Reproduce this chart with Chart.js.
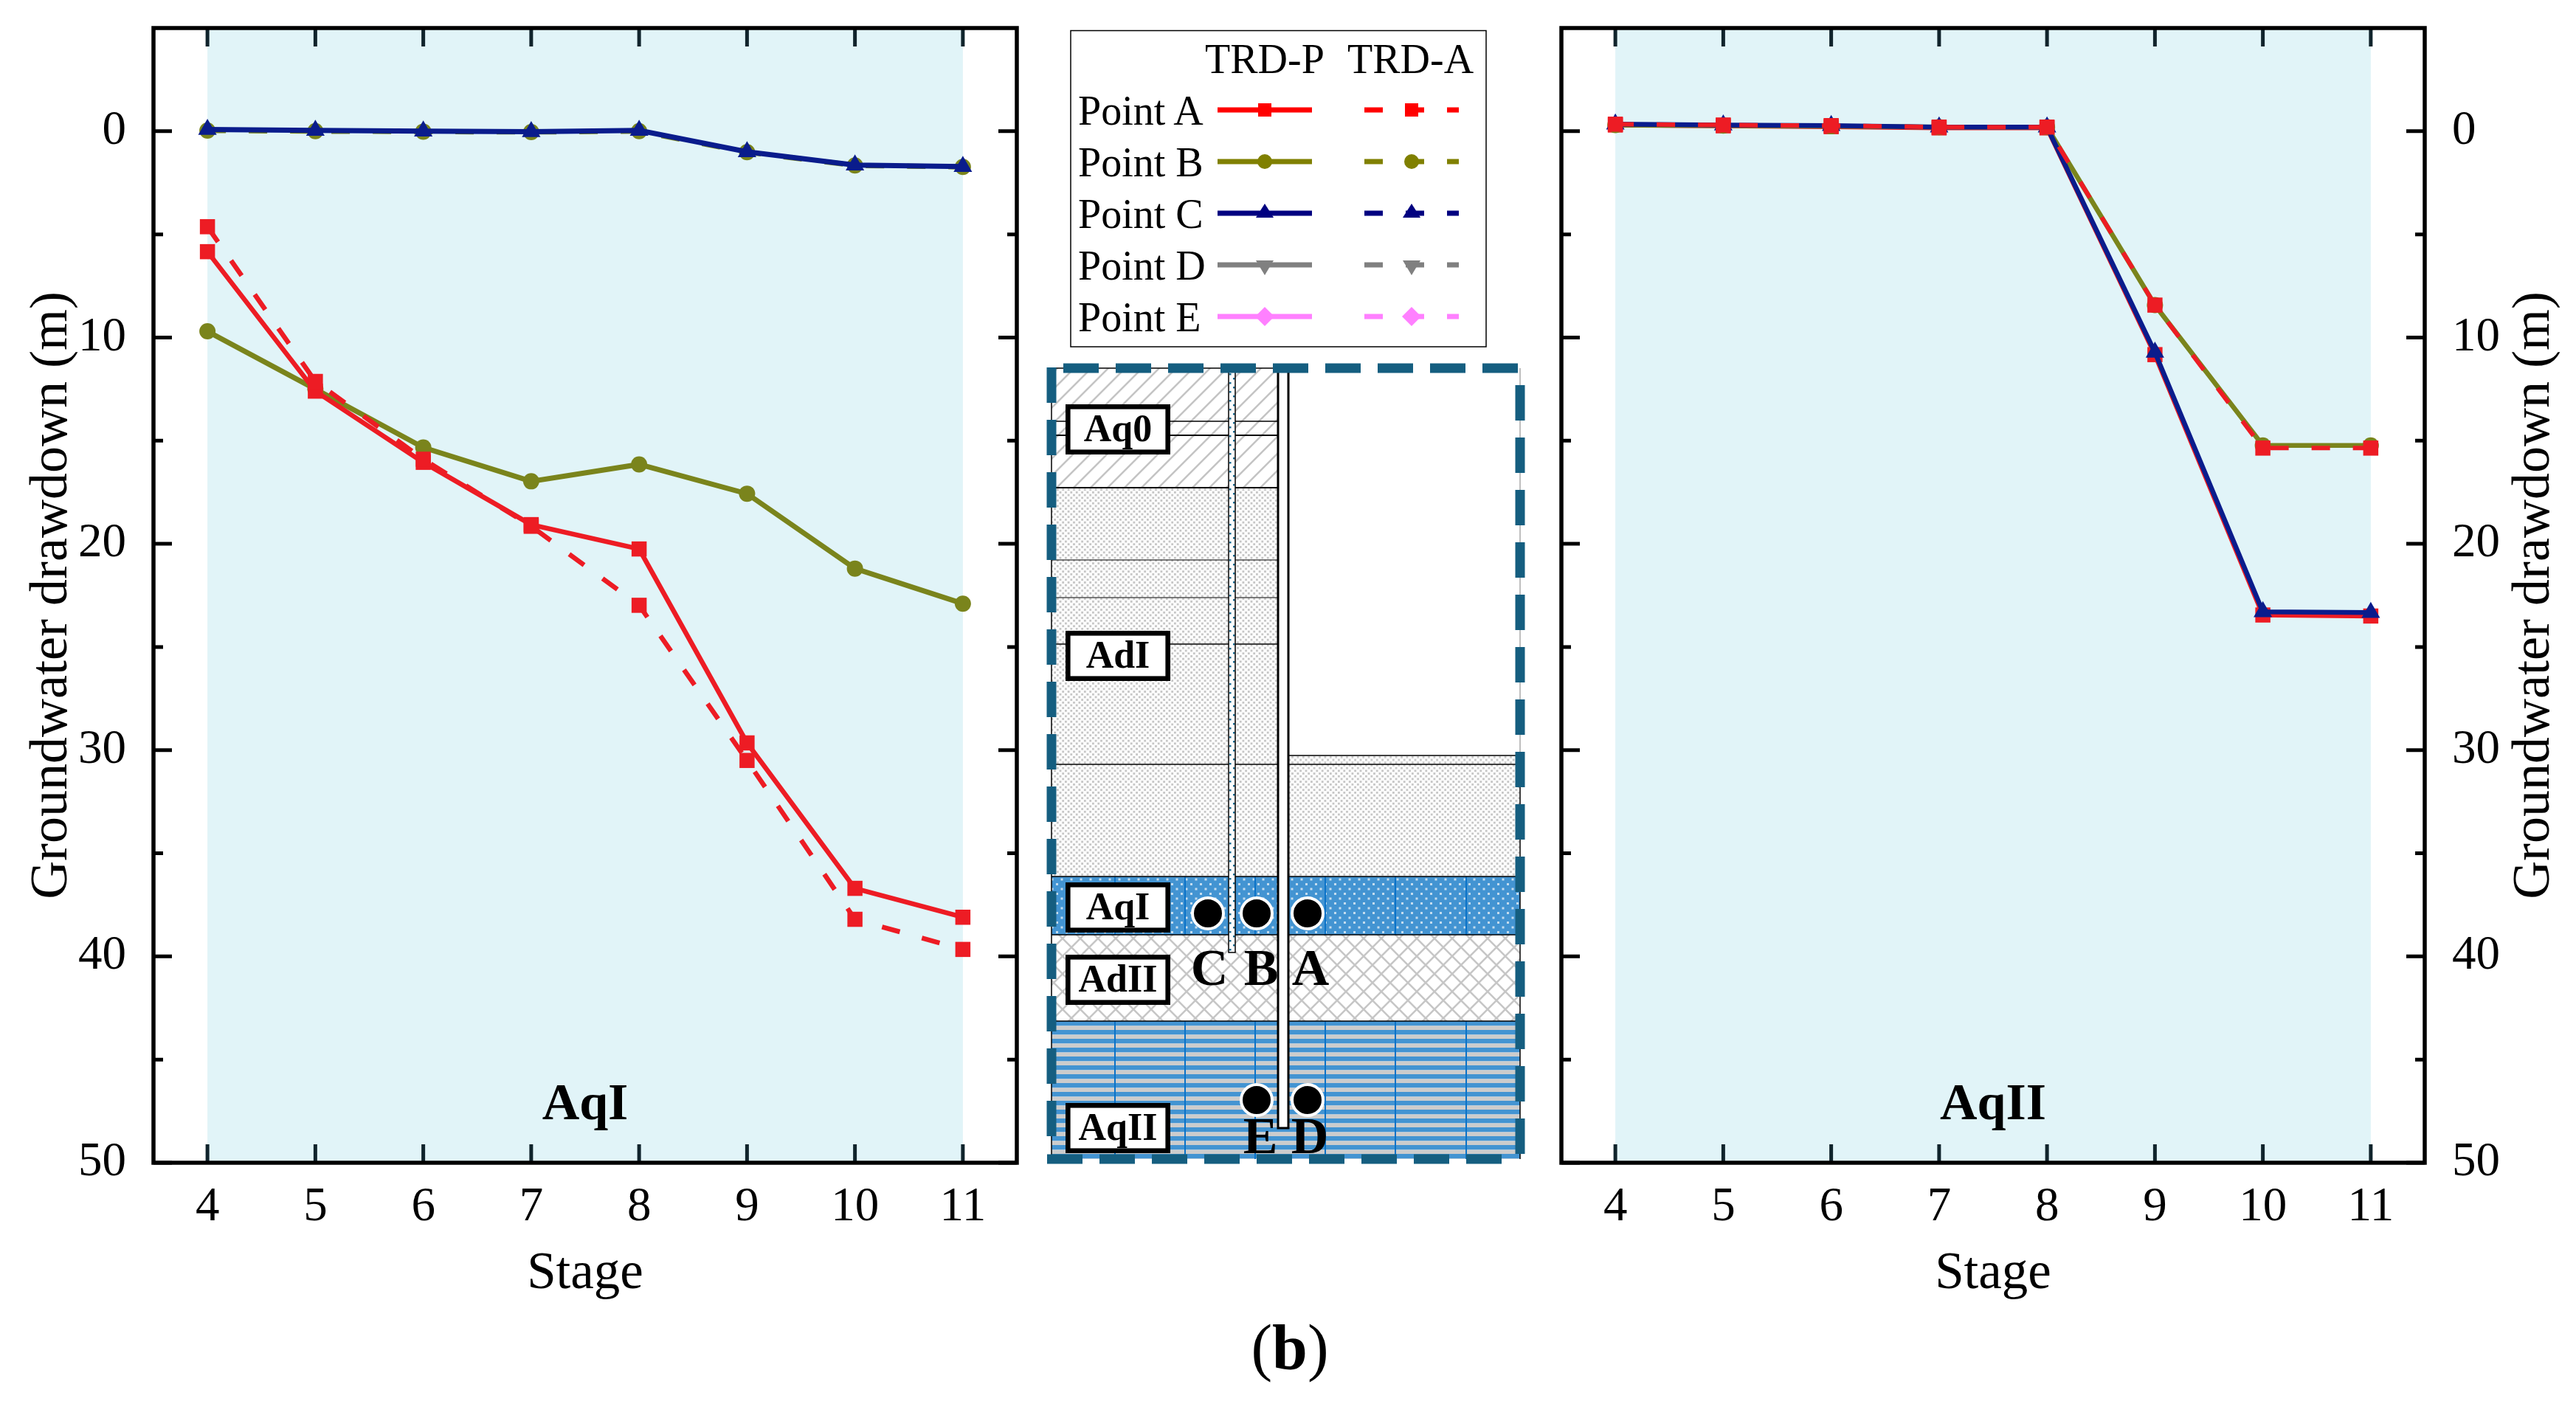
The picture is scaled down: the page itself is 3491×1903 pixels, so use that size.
<!DOCTYPE html>
<html>
<head>
<meta charset="utf-8">
<title>Groundwater drawdown</title>
<script src="https://cdn.jsdelivr.net/npm/chart.js@4/dist/chart.umd.js"></script>
<style>
  html, body { margin: 0; padding: 0; background: #fff; overflow: hidden; }
  #page { position: relative; width: 3491px; height: 1903px; }
  canvas, svg { position: absolute; top: 0; }
  svg { left: 0; pointer-events: none; }
  svg text { font-family: "Liberation Serif", serif; fill: #000; }
</style>
</head>
<body>
<div id="page">
  <canvas id="chartAqI" width="1420" height="1903" style="left:0"></canvas>
  <canvas id="chartAqII" width="1391" height="1903" style="left:2100px"></canvas>
  <svg id="overlay" width="3491" height="1903" xmlns="http://www.w3.org/2000/svg"></svg>
</div>
<script>
const stages = [4, 5, 6, 7, 8, 9, 10, 11]
const yTicks = [0, 10, 20, 30, 40, 50]
const yMinorTicks = [5, 15, 25, 35, 45]

// AqI panel
const aqIPointAP = [5.84, 12.6, 16.05, 19.07, 20.25, 29.65, 36.7, 38.1]
const aqIPointAA = [4.63, 12.13, 15.9, 19.15, 22.98, 30.5, 38.2, 39.66]
const aqIPointBP = [9.7, 12.5, 15.33, 16.97, 16.15, 17.57, 21.2, 22.9]
const aqIPointBA = [-0.03, 0, 0.02, 0.04, 0, 1.02, 1.66, 1.73]
const aqIPointCP = [-0.08, -0.04, 0, 0.02, -0.04, 1, 1.64, 1.71]

// AqII panel
const aqIIPointAP = [-0.3, -0.26, -0.22, -0.16, -0.16, 10.83, 23.45, 23.5]
const aqIIPointAA = [-0.34, -0.3, -0.27, -0.2, -0.2, 8.43, 15.36, 15.36]
const aqIIPointBP = [-0.3, -0.27, -0.24, -0.2, -0.2, 8.43, 15.23, 15.23]
const aqIIPointCP = [-0.34, -0.3, -0.27, -0.2, -0.2, 10.72, 23.3, 23.33]

const RED = '#ed1c24'
const OLIVE = '#7a841c'
const NAVY = '#0a1c8c'
const FONT = '"Liberation Serif", serif'
const DASH = [25, 31]

const xy = (values) => stages.map((s, i) => ({ x: s, y: values[i] }))

function series(label, values, color, style, radius, width, dash) {
  return {
    label,
    data: xy(values),
    borderColor: color,
    backgroundColor: color,
    borderWidth: width,
    borderDash: dash || [],
    pointStyle: style,
    pointRadius: radius,
    pointBackgroundColor: color,
    pointBorderWidth: 0,
    tension: 0,
    clip: false,
  }
}

// band behind the lines, frame and inward ticks on top of them
const framePlugin = {
  id: 'frame',
  beforeDatasetsDraw(chart) {
    const { ctx, chartArea: a, scales: { x } } = chart
    ctx.save()
    ctx.fillStyle = '#e1f4f8'
    ctx.fillRect(x.getPixelForValue(4), a.top, x.getPixelForValue(11) - x.getPixelForValue(4), a.bottom - a.top)
    ctx.restore()
  },
  afterDatasetsDraw(chart) {
    const { ctx, chartArea: a, scales: { x, y } } = chart
    ctx.save()
    ctx.lineWidth = 5
    ctx.strokeStyle = '#10242c'
    stages.forEach((s) => {
      const px = x.getPixelForValue(s)
      ctx.beginPath()
      ctx.moveTo(px, a.top)
      ctx.lineTo(px, a.top + 25)
      ctx.moveTo(px, a.bottom)
      ctx.lineTo(px, a.bottom - 25)
      ctx.stroke()
    })
    ctx.strokeStyle = '#000'
    const yTick = (v, len) => {
      const py = y.getPixelForValue(v)
      ctx.beginPath()
      ctx.moveTo(a.left, py)
      ctx.lineTo(a.left + len, py)
      ctx.moveTo(a.right, py)
      ctx.lineTo(a.right - len, py)
      ctx.stroke()
    }
    yTicks.forEach((v) => yTick(v, 25))
    yMinorTicks.forEach((v) => yTick(v, 13))
    ctx.lineWidth = 5.5
    ctx.strokeRect(a.left, a.top, a.right - a.left, a.bottom - a.top)
    ctx.restore()
  },
}

function panelLabel(text) {
  return {
    id: 'panelLabel',
    afterDatasetsDraw(chart) {
      const { ctx, chartArea: a, scales: { y } } = chart
      ctx.save()
      ctx.font = `bold 70px ${FONT}`
      ctx.fillStyle = '#000'
      ctx.textAlign = 'center'
      ctx.textBaseline = 'alphabetic'
      ctx.fillText(text, (a.left + a.right) / 2, y.getPixelForValue(47.9))
      ctx.restore()
    },
  }
}

// Chart.js turns a right hand title the other way, so this one is drawn by hand
const rightTitle = {
  id: 'rightTitle',
  afterDraw(chart) {
    const { ctx, chartArea: a, scales: { y } } = chart
    ctx.save()
    ctx.translate(y.right - 56, (a.top + a.bottom) / 2)
    ctx.rotate(-Math.PI / 2)
    ctx.font = `72px ${FONT}`
    ctx.fillStyle = '#000'
    ctx.textAlign = 'center'
    ctx.textBaseline = 'middle'
    ctx.fillText('Groundwater drawdown (m)', 0, 0)
    ctx.restore()
  },
}

function makeChart(id, datasets, opts) {
  return new Chart(document.getElementById(id), {
    type: 'line',
    data: { datasets },
    plugins: opts.plugins,
    options: {
      responsive: false,
      animation: false,
      devicePixelRatio: 1,
      layout: { padding: opts.padding },
      plugins: { legend: { display: false }, tooltip: { enabled: false } },
      scales: {
        x: {
          type: 'linear',
          min: 3.5,
          max: 11.5,
          grid: { display: false },
          border: { display: false },
          afterBuildTicks: (s) => { s.ticks = stages.map((v) => ({ value: v })) },
          afterFit: (s) => {
            s.height = 327
            s.paddingLeft = 0
            s.paddingRight = 0
          },
          ticks: {
            font: { family: FONT, size: 65 },
            color: '#000',
            padding: 14,
            autoSkip: false,
            maxRotation: 0,
            minRotation: 0,
          },
          title: {
            display: true,
            text: 'Stage',
            font: { family: FONT, size: 71 },
            color: '#000',
            padding: { top: 0, bottom: 133 },
          },
        },
        y: {
          type: 'linear',
          position: opts.yPosition,
          reverse: true,
          min: -5,
          max: 50,
          grid: { display: false },
          border: { display: false },
          afterBuildTicks: (s) => { s.ticks = yTicks.map((v) => ({ value: v })) },
          afterFit: (s) => {
            s.width = opts.yWidth
            s.paddingTop = 0
            s.paddingBottom = 0
          },
          ticks: {
            font: { family: FONT, size: 65 },
            color: '#000',
            padding: 29,
            autoSkip: false,
            maxRotation: 0,
            minRotation: 0,
          },
          title: {
            display: opts.yPosition === 'left',
            text: 'Groundwater drawdown (m)',
            font: { family: FONT, size: 72 },
            color: '#000',
            padding: { top: 28, bottom: 0 },
          },
        },
      },
    },
  })
}

// first dataset ends up on top
makeChart('chartAqI', [
  series('Point C TRD-P', aqIPointCP, NAVY, 'triangle', 14.5, 7),
  series('Point A TRD-A', aqIPointAA, RED, 'rect', 14.5, 6.5, DASH),
  series('Point A TRD-P', aqIPointAP, RED, 'rect', 14.5, 6.5),
  series('Point B TRD-P', aqIPointBP, OLIVE, 'circle', 11, 7),
  series('Point B TRD-A', aqIPointBA, OLIVE, 'circle', 11, 7, DASH),
], {
  padding: { top: 38, right: 42, left: 0, bottom: 0 },
  yPosition: 'left',
  yWidth: 208,
  plugins: [framePlugin, panelLabel('AqI')],
})

makeChart('chartAqII', [
  series('Point A TRD-A', aqIIPointAA, RED, 'rect', 14.5, 6, DASH),
  series('Point C TRD-P', aqIIPointCP, NAVY, 'triangle', 14.5, 6.5),
  series('Point B TRD-P', aqIIPointBP, OLIVE, 'circle', 11, 6.5),
  series('Point A TRD-P', aqIIPointAP, RED, 'rect', 14.5, 6.5),
], {
  padding: { top: 38, right: 0, left: 16, bottom: 0 },
  yPosition: 'right',
  yWidth: 205,
  plugins: [framePlugin, panelLabel('AqII'), rightTitle],
})

// legend table and well section, neither is something Chart.js can lay out
const legendRows = [
  ['Point A', '#ff0000', 'square'],
  ['Point B', '#808000', 'circle'],
  ['Point C', '#000080', 'up'],
  ['Point D', '#808080', 'down'],
  ['Point E', '#ff80ff', 'diamond'],
]

function marker(kind, x, y, color) {
  if (kind === 'square') return `<rect x="${x - 9}" y="${y - 9}" width="18" height="18" fill="${color}"/>`
  if (kind === 'circle') return `<circle cx="${x}" cy="${y}" r="10" fill="${color}"/>`
  if (kind === 'up') return `<path d="M${x} ${y - 13}L${x + 12} ${y + 6}L${x - 12} ${y + 6}Z" fill="${color}"/>`
  if (kind === 'down') return `<path d="M${x} ${y + 14}L${x + 12} ${y - 6}L${x - 12} ${y - 6}Z" fill="${color}"/>`
  return `<path d="M${x} ${y - 13}L${x + 13} ${y}L${x} ${y + 13}L${x - 13} ${y}Z" fill="${color}"/>`
}

let svg = `<defs>
  <pattern id="hatch" width="23" height="23" patternUnits="userSpaceOnUse">
    <rect width="23" height="23" fill="#fff"/>
    <path d="M-6 6L6 -6M0 23L23 0M17 29L29 17" stroke="#c4c4c4" stroke-width="2.5"/>
  </pattern>
  <pattern id="dots" width="7.4" height="7.4" patternUnits="userSpaceOnUse">
    <rect width="7.4" height="7.4" fill="#fdfdfd"/>
    <rect x="0" y="0" width="2.8" height="2.8" fill="#c6c6c6"/>
    <rect x="3.7" y="3.7" width="2.8" height="2.8" fill="#c6c6c6"/>
  </pattern>
  <pattern id="cross" width="24" height="24" patternUnits="userSpaceOnUse">
    <rect width="24" height="24" fill="#fff"/>
    <path d="M0 0L24 24M24 0L0 24" stroke="#c6c6c6" stroke-width="2.5"/>
  </pattern>
  <pattern id="blueDots" width="13" height="13" patternUnits="userSpaceOnUse">
    <rect width="13" height="13" fill="#4394d2"/>
    <rect x="1" y="1" width="3" height="3" fill="#c4dcee"/>
    <rect x="7.5" y="7.5" width="3" height="3" fill="#c4dcee"/>
  </pattern>
  <pattern id="stripes" width="12" height="12" patternUnits="userSpaceOnUse" patternTransform="translate(0 4)">
    <rect width="12" height="6.5" fill="#4394d2"/>
    <rect y="6.5" width="12" height="5.5" fill="#cccccc"/>
  </pattern>
  <pattern id="wellDots" width="9" height="12" patternUnits="userSpaceOnUse">
    <rect width="9" height="12" fill="#fff"/>
    <rect x="1" y="2" width="2.5" height="2.5" fill="#1a6a90"/>
    <rect x="6" y="8" width="2.5" height="2.5" fill="#1a6a90"/>
  </pattern>
</defs>`

// legend
svg += '<rect x="1451" y="41.5" width="563" height="428.5" fill="#fff" stroke="#000" stroke-width="1.5"/>'
svg += '<text x="1633" y="99" font-size="56">TRD-P</text><text x="1826" y="99" font-size="56">TRD-A</text>'
legendRows.forEach(([name, color, kind], i) => {
  const y = 149 + i * 70
  svg += `<text x="1461" y="${y + 20}" font-size="56">${name}</text>`
  svg += `<line x1="1650" x2="1778" y1="${y}" y2="${y}" stroke="${color}" stroke-width="7"/>`
  svg += marker(kind, 1714, y, color)
  svg += `<line x1="1849" x2="1977" y1="${y}" y2="${y}" stroke="${color}" stroke-width="7" stroke-dasharray="25 31"/>`
  svg += marker(kind, 1913, y, color)
})

// ground layers
const secL = 1425, secR = 2060, wallL = 1732, wallR = 1746
const rect = (x, y, w, h, fill) => `<rect x="${x}" y="${y}" width="${w}" height="${h}" fill="${fill}"/>`
const hline = (x1, x2, y, w) => `<line x1="${x1}" x2="${x2}" y1="${y}" y2="${y}" stroke="#000" stroke-width="${w}"/>`

svg += rect(secL, 499, wallL - secL, 162, 'url(#hatch)')
svg += rect(secL, 661, wallL - secL, 527, 'url(#dots)')
svg += rect(wallR, 1024, secR - wallR, 164, 'url(#dots)')
svg += rect(secL, 1188, secR - secL, 79, 'url(#blueDots)')
svg += rect(secL, 1267, secR - secL, 117, 'url(#cross)')
svg += rect(secL, 1384, secR - secL, 187, 'url(#stripes)')
;[1511, 1606, 1701, 1796, 1891, 1987].forEach((x) => {
  svg += `<line x1="${x}" x2="${x}" y1="1188" y2="1267" stroke="#0a72c8" stroke-width="2"/>`
  svg += `<line x1="${x}" x2="${x}" y1="1384" y2="1571" stroke="#0a72c8" stroke-width="2"/>`
})
;[[571, 1.5], [590, 2], [661, 2], [759, 1], [810, 1], [873, 1.5], [1036, 1.5]].forEach(([y, w]) => {
  svg += hline(secL, wallL, y, w)
})
svg += hline(wallR, secR, 1024, 1.5) + hline(wallR, secR, 1036, 1.5)
svg += hline(secL, secR, 1188, 1.5) + hline(secL, secR, 1267, 1.5) + hline(secL, secR, 1384, 1.5)
svg += `<path d="M${secL} 499H${wallL}" stroke="#000" stroke-width="1.5"/>`
svg += `<path d="M${secL} 499V1571" stroke="#000" stroke-width="1.5"/>`
svg += `<path d="M${secR} 499V1024" stroke="#aaa" stroke-width="1.5"/>`
svg += `<path d="M${secR} 1024V1571" stroke="#000" stroke-width="1.5"/>`

// wells
svg += '<rect x="1665" y="499" width="9" height="792" fill="url(#wellDots)" stroke="#000" stroke-width="1.5"/>'
svg += `<rect x="${wallL}" y="499" width="${wallR - wallL}" height="1030" fill="#fff" stroke="#000" stroke-width="3"/>`

// observation points
;[[1637, 1238], [1703, 1238], [1772, 1238], [1703, 1491], [1772, 1491]].forEach(([x, y]) => {
  svg += `<circle cx="${x}" cy="${y}" r="21" fill="#000" stroke="#fff" stroke-width="4"/>`
})
;[['C', 1639, 1335], ['B', 1709, 1335], ['A', 1776, 1335], ['E', 1708, 1563], ['D', 1775, 1563]].forEach(([t, x, y]) => {
  svg += `<text x="${x}" y="${y}" font-size="70" font-weight="bold" text-anchor="middle">${t}</text>`
})

// layer names
;[['Aq0', 548], ['AdI', 855], ['AqI', 1196], ['AdII', 1294], ['AqII', 1495]].forEach(([t, y]) => {
  svg += `<rect x="1447.3" y="${y + 3.3}" width="135.4" height="61.4" fill="#fff" stroke="#000" stroke-width="6.6"/>`
  svg += `<text x="1515" y="${y + 50}" font-size="52" font-weight="bold" text-anchor="middle">${t}</text>`
})

// dashed outline of the section, each side starts its own dash run
const outline = (x1, y1, x2, y2) => `<line x1="${x1}" y1="${y1}" x2="${x2}" y2="${y2}" stroke="#155e80" stroke-width="13" stroke-dasharray="48 23"/>`
svg += outline(1441, 499, 2066, 499)
svg += outline(secR, 522, secR, 1571)
svg += outline(1419, 1571, 2040, 1571)
svg += outline(secL, 498, secL, 1545)

// caption
svg += '<text x="1748" y="1855" font-size="86" text-anchor="middle">(<tspan font-weight="bold">b</tspan>)</text>'

document.getElementById('overlay').innerHTML = svg
</script>
</body>
</html>
